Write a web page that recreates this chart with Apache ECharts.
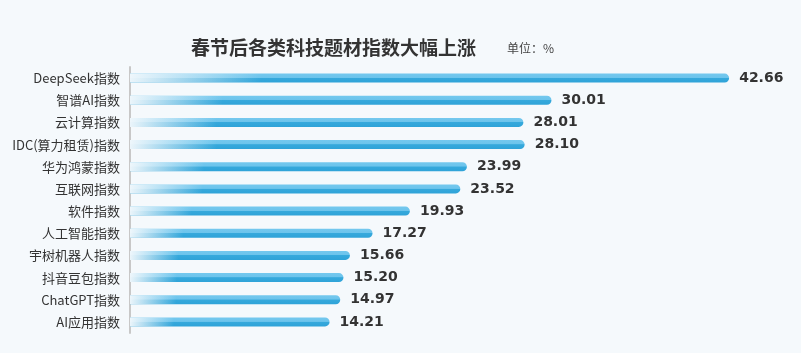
<!DOCTYPE html>
<html>
<head>
<meta charset="utf-8">
<script src="https://cdn.jsdelivr.net/npm/echarts@6/dist/echarts.min.js"></script>
<style>
html,body{margin:0;padding:0;background:#f5f9fc;}
#main{width:801px;height:353px;}
</style>
</head>
<body>
<div id="main"></div>
<script>
var categories = ['DeepSeek指数','智谱AI指数','云计算指数','IDC(算力租赁)指数','华为鸿蒙指数','互联网指数','软件指数','人工智能指数','宇树机器人指数','抖音豆包指数','ChatGPT指数','AI应用指数'];
var values = [42.66, 30.01, 28.01, 28.10, 23.99, 23.52, 19.93, 17.27, 15.66, 15.20, 14.97, 14.21];

var myChart = echarts.init(document.getElementById('main'));

var option = {
	backgroundColor: '#f5f9fc',
	title: [{
		text: '春节后各类科技题材指数大幅上涨',
		left: 186,
		top: 33,
		textStyle: {fontSize: 19, fontWeight: 'bold', color: '#333', fontFamily: 'Noto Sans CJK SC'}
	},{
		text: '单位：%',
		left: 502,
		top: 37,
		textStyle: {fontSize: 12, fontWeight: 'normal', color: '#444', fontFamily: 'Noto Sans CJK SC'}
	}],
	grid: {left: 130, top: 67, right: 39, bottom: 20},
	xAxis: {
		type: 'value',
		min: 0,
		max: 45,
		show: false
	},
	yAxis: {
		type: 'category',
		data: categories,
		inverse: true,
		axisLine: {show: true, lineStyle: {color: '#c8c8c8', width: 2}},
		axisTick: {show: false},
		axisLabel: {color: '#333', fontSize: 13, margin: 10, fontFamily: 'Noto Sans CJK SC'}
	},
	series: [{
		type: 'bar',
		data: values,
		barWidth: 9,
		silent: true,
		itemStyle: {
			borderRadius: [0, 5, 5, 0],
			color: new echarts.graphic.LinearGradient(0, 0, 0, 1, [
				{offset: 0, color: '#74c8ee'},
				{offset: 0.45, color: '#6cc4ec'},
				{offset: 0.5, color: '#36a9dc'},
				{offset: 1, color: '#2fa3d8'}
			])
		}
	},{
		type: 'bar',
		data: values,
		barWidth: 9,
		barGap: '-100%',
		silent: true,
		itemStyle: {
			borderRadius: [0, 5, 5, 0],
			color: new echarts.graphic.LinearGradient(0, 0, 1, 0, [
				{offset: 0, color: 'rgba(245,249,252,0.95)'},
				{offset: 0.22, color: 'rgba(245,249,252,0)'},
				{offset: 1, color: 'rgba(245,249,252,0)'}
			])
		},
		label: {
			show: true,
			position: 'right',
			distance: 10,
			color: '#333',
			fontSize: 14,
			fontWeight: 'bold',
			fontFamily: 'DejaVu Sans',
			formatter: function(p){ return p.value.toFixed(2); }
		}
	}]
};
myChart.setOption(option);
</script>
</body>
</html>
